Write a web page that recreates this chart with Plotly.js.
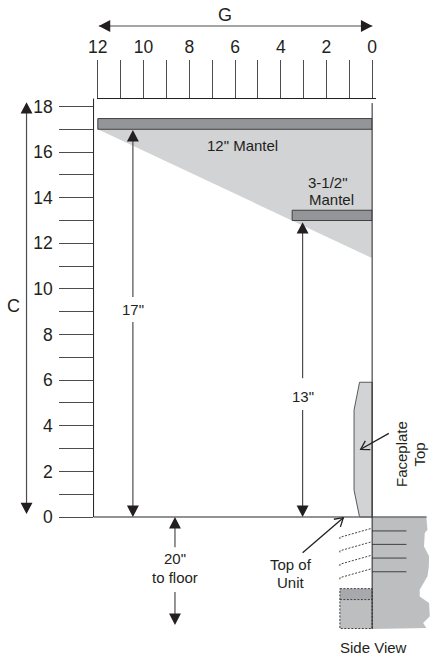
<!DOCTYPE html>
<html><head><meta charset="utf-8">
<script src="https://cdn.plot.ly/plotly-3.0.1.min.js"></script>
<style>html,body{margin:0;padding:0;background:#fff}</style></head>
<body><div id="c" style="width:430px;height:655px"></div>
<script>
// All values in inches, chart units
const gTicks=[12,10,8,6,4,2,0];
const cTicks=[0,2,4,6,8,10,12,14,16,18];
const clearanceX=[12,0,0];
const clearanceY=[17,11.35,17];
const mantel12X=[12,0,0,12,12];
const mantel12Y=[17,17,17.47,17.47,17];
const mantel35X=[3.5,0,0,3.5,3.5];
const mantel35Y=[13,13,13.45,13.45,13];
const faceplateX=[0.55,0.79,0.79,0.55,0,0,0.55];
const faceplateY=[5.91,4.69,1.18,0,0,5.91,5.91];
const wallX=[0,-2.37,-2.42,-2.30,-2.27,-2.49,-2.48,-2.42,-2.08,-2.08,-2.49,-2.52,-2.23,-2.37,0];
const wallY=[0,0,-0.56,-0.70,-1.29,-1.72,-2.16,-2.60,-3.19,-3.48,-3.77,-4.35,-4.65,-4.87,-4.91];
const boxX=[1.41,0,0,1.41,1.41];
const boxY=[-3.14,-3.14,-4.89,-4.89,-3.14];
const bandY=[-3.14,-3.14,-3.62,-3.62,-3.14];
const finRightY=[-0.51,-1.10,-1.69,-2.28];
const finLeftY=[-0.89,-1.48,-2.07,-2.66];
const finEndY=[-1.02,-1.61,-2.20,-2.79];
const slotY=[-0.61,-1.20,-1.80,-2.40];
const arrowLineX=[15.11,15.11,null,11.95,-0.01,null,10.46,10.46,null,10.46,10.46,null,3.04,3.04,null,3.04,3.04,null,8.62,8.62,null,8.62,8.62];
const arrowLineY=[18.0,0.3,null,21.53,21.53,null,16.6,9.65,null,8.55,0.3,null,12.5,6.09,null,4.69,0.3,null,-0.3,-1.32,null,-3.29,-4.4];
const headTipX=[15.11,15.11,11.95,-0.01,10.46,10.46,3.04,3.04,8.62,8.62];
const headTipY=[18.19,0.13,21.53,21.53,16.97,0,12.93,0,0,-4.73];
const headDir=['u','d','l','r','u','d','u','d','u','d'];
const pointerTailX=[-0.73,3.04];
const pointerTailY=[3.67,-1.57];
const pointerTipX=[0.50,1.26];
const pointerTipY=[2.97,-0.03];
const labels=['G','C','12" Mantel','3-1/2"','Mantel','17"','13"','Faceplate','Top','Top of','Unit','20"','to floor','Side View'];
const labelX=[6.44,15.7,5.65,1.91,1.76,10.46,3.04,-1.26,-2.07,3.55,3.55,8.62,8.62,-0.08];
const labelY=[22.0,9.25,16.31,14.69,13.94,9.12,5.30,2.76,2.76,-2.10,-2.85,-1.84,-2.63,-5.70];
const labelAngle=[0,0,0,0,0,0,0,-90,-90,0,0,0,0,0];
const labelSize=[18,18,15,15,15,15,15,15,15,15,15,15,15,15];

const INK='#231f20',LINE='#4d4d4f',DASH='2px,1.5px';
function seg(xs,ys,color,width,dash,sub){
  return {x:xs,y:ys,mode:'lines',xaxis:sub?'x':'x2',yaxis:sub?'y':'y2',hoverinfo:'skip',showlegend:false,
    line:{color:color,width:width,dash:dash||'solid'}};
}
function poly(xs,ys,fill,edge,sub){
  return {x:xs,y:ys,mode:'lines',fill:'toself',fillcolor:fill,xaxis:sub?'x':'x2',yaxis:sub?'y':'y2',
    hoverinfo:'skip',showlegend:false,line:{color:edge||fill,width:edge?1:0}};
}
// arrow heads
const hx=[],hy=[];
headTipX.forEach((tx,i)=>{
  const ty=headTipY[i],d=headDir[i],L=0.5,W=0.26;
  if(d==='u'){hx.push(tx,tx-W,tx+W,tx,null);hy.push(ty,ty-L,ty-L,ty,null);}
  if(d==='d'){hx.push(tx,tx-W,tx+W,tx,null);hy.push(ty,ty+L,ty+L,ty,null);}
  if(d==='l'){hx.push(tx,tx-L,tx-L,tx,null);hy.push(ty,ty-W,ty+W,ty,null);}
  if(d==='r'){hx.push(tx,tx+L,tx+L,tx,null);hy.push(ty,ty-W,ty+W,ty,null);}
});
// open pointers
const px=[],py=[];
pointerTipX.forEach((tx,i)=>{
  const ty=pointerTipY[i],dx=pointerTailX[i]-tx,dy=pointerTailY[i]-ty,n=Math.hypot(dx,dy),ux=dx/n,uy=dy/n;
  const c=Math.cos(0.55),s=Math.sin(0.55),w=0.42;
  px.push(pointerTailX[i],tx,null,tx+w*(ux*c-uy*s),tx,tx+w*(ux*c+uy*s),null);
  py.push(pointerTailY[i],ty,null,ty+w*(uy*c+ux*s),ty,ty+w*(uy*c-ux*s),null);
});
// fins
const fx=[],fy=[];
finRightY.forEach((y,i)=>{fx.push(0.07,1.41,1.41,null);fy.push(y,finLeftY[i],finEndY[i],null);});
const sx=[],sy=[];
slotY.forEach(y=>{sx.push(0,-1.5,null);sy.push(y,y,null);});

const traces=[
  poly(clearanceX,clearanceY,'#d1d3d4',null,true),
  poly(mantel12X,mantel12Y,'#939598','#414042',true),
  poly(mantel35X,mantel35Y,'#939598','#414042',true),
  poly(wallX,wallY,'#bcbec0'),
  poly(boxX,boxY,'#bcbec0'),
  poly(boxX,bandY,'#a7a9ac'),
  seg(boxX,boxY,'#414042',1,DASH),
  seg([1.41,0],[-3.62,-3.62],'#414042',1,DASH),
  seg(fx,fy,'#414042',1,DASH),
  seg(sx,sy,'#414042',1),
  poly(faceplateX,faceplateY,'#d1d3d4','#58595b'),
  seg([12.18,-2.38],[0,0],'#6d6e71',1.5),
  seg([12.03,-0.17],[18.35,18.35],INK,1),
  seg([12.18,12.18],[18.35,0],INK,1),
  seg([0,0],[18.15,-4.91],INK,1),
  seg(arrowLineX,arrowLineY,LINE,1.2),
  poly(hx,hy,INK),
  seg(px,py,INK,1.3)
];
const anns=labels.map((t,i)=>({text:t,x:labelX[i],y:labelY[i],xref:'x2',yref:'y2',showarrow:false,
  textangle:labelAngle[i],font:{size:labelSize[i],color:INK,family:'Liberation Sans'},align:'center',
  xanchor:'center',yanchor:'middle'}));
const base={showgrid:false,zeroline:false,showline:false,fixedrange:true,ticks:'outside',tickcolor:LINE,tickwidth:1,
  tickfont:{size:17.5,color:INK,family:'Liberation Sans'}};
const layout={width:430,height:655,margin:{l:0,r:0,t:0,b:0},paper_bgcolor:'#fff',plot_bgcolor:'rgba(0,0,0,0)',
  showlegend:false,annotations:anns,
  xaxis:Object.assign({},base,{domain:[93.7/430,372.2/430],range:[12.18,0],side:'top',anchor:'y',
    tickmode:'array',tickvals:gTicks,ticklen:38,ticklabelstandoff:0,
    minor:{tickmode:'linear',tick0:0,dtick:1,ticks:'outside',ticklen:38,tickcolor:LINE,tickwidth:1,showgrid:false}}),
  yaxis:Object.assign({},base,{domain:[(655-517)/655,(655-98.5)/655],range:[0,18.35],anchor:'x',
    tickmode:'array',tickvals:cTicks,ticklen:33.5,ticklabelstandoff:3,
    minor:{tickmode:'linear',tick0:0,dtick:1,ticks:'outside',ticklen:33.5,tickcolor:LINE,tickwidth:1,showgrid:false}}),
  xaxis2:{domain:[0,1],range:[16.27,-2.53],visible:false,fixedrange:true,anchor:'y2'},
  yaxis2:{domain:[0,1],range:[-6.05,22.67],visible:false,fixedrange:true,anchor:'x2'}
};
Plotly.newPlot('c',traces,layout,{displayModeBar:false,staticPlot:true});
</script></body></html>
